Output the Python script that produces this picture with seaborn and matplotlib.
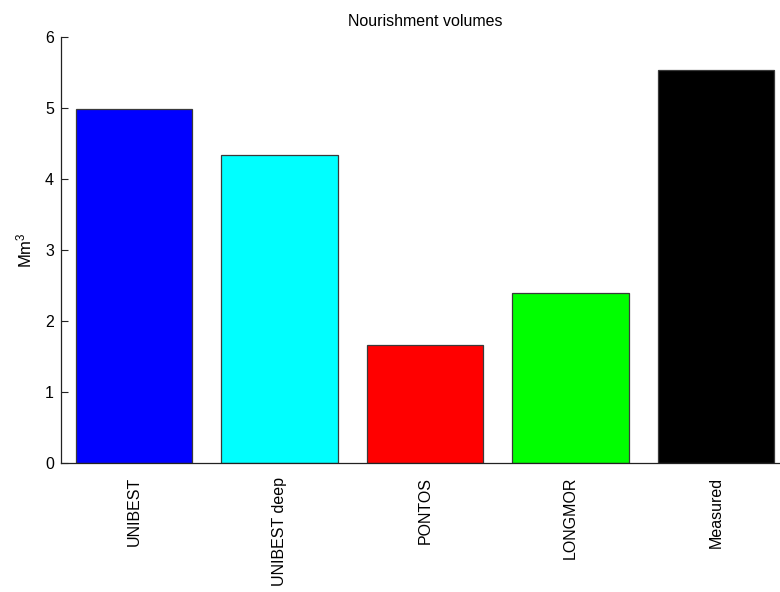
import matplotlib
matplotlib.use("Agg")
import matplotlib.pyplot as plt
import seaborn as sns
import pandas as pd

models = ["UNIBEST", "UNIBEST deep", "PONTOS", "LONGMOR", "Measured"]
volumes = [4.98, 4.34, 1.66, 2.40, 5.53]
bar_colors = ["#0000ff", "#00ffff", "#ff0000", "#00ff00", "#000000"]
yticks = [0, 1, 2, 3, 4, 5, 6]

sns.set_style("white")
plt.rcParams["font.family"] = ["Liberation Sans", "DejaVu Sans"]
plt.rcParams["mathtext.fontset"] = "custom"
plt.rcParams["mathtext.rm"] = "Liberation Sans"
plt.rcParams["mathtext.it"] = "Liberation Sans"
plt.rcParams["text.color"] = "black"
plt.rcParams["axes.labelcolor"] = "black"
plt.rcParams["xtick.color"] = "black"
plt.rcParams["ytick.color"] = "black"

df = pd.DataFrame({"model": models, "volume": volumes})

fig = plt.figure(figsize=(7.8, 5.92), dpi=100)
ax = fig.add_axes([61 / 780, 129 / 592, 728 / 780, 426 / 592])

sns.barplot(data=df, x="model", y="volume", hue="model", palette=bar_colors,
            order=models, hue_order=models, dodge=False, width=0.8,
            edgecolor="#3a3a3a", linewidth=0.9, saturation=1, legend=False, ax=ax)

ax.set_xlim(-0.5, len(models) - 0.5)
ax.set_ylim(0, 6)
ax.set_yticks(yticks)
ax.set_yticklabels([str(t) for t in yticks])
ax.set_xticks(range(len(models)))
ax.set_xticklabels(models, rotation=90, va="top", ha="center")

for side in ["top", "right"]:
    ax.spines[side].set_visible(False)
for side in ["left", "bottom"]:
    ax.spines[side].set_color("#222222")
    ax.spines[side].set_linewidth(0.9)

ax.tick_params(axis="y", direction="in", length=5, width=0.8, color="#222222",
               labelsize=11.5, pad=5, left=True, labelcolor="black")
ax.tick_params(axis="x", length=0, labelsize=11.5, pad=10, labelcolor="black")

ax.set_xlabel("")
ax.set_ylabel("Mm$^{3}$", fontsize=12, labelpad=8, color="black")
ax.set_title("Nourishment volumes", fontsize=11.5, pad=8, color="black")

fig.savefig("out.png", dpi=100)
